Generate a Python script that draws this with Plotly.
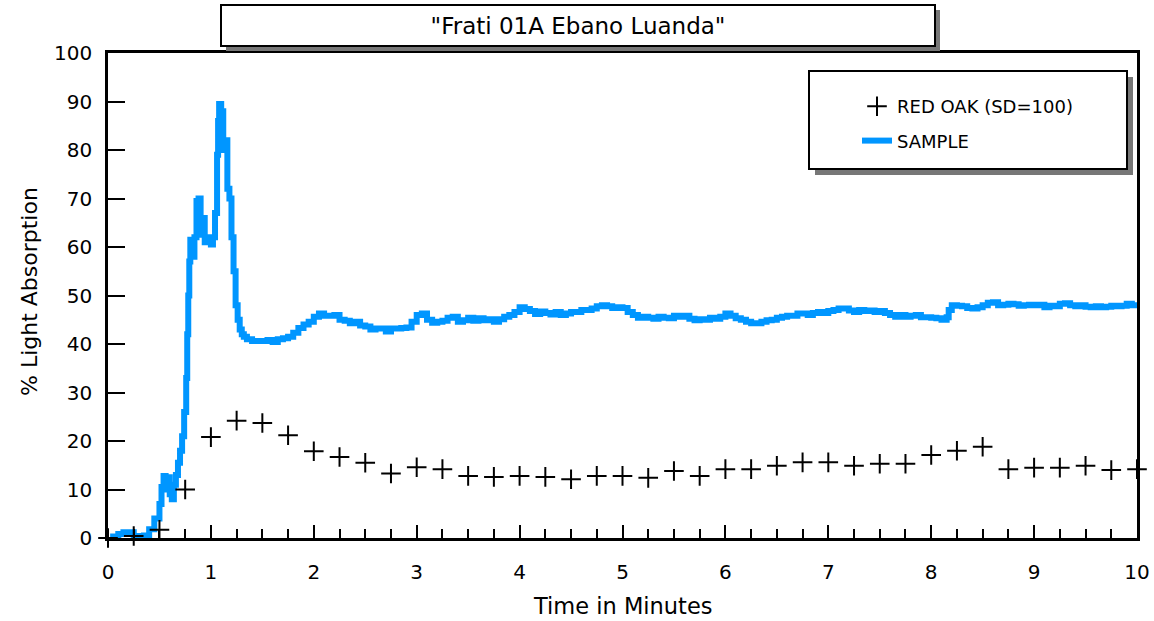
import plotly.graph_objects as go

# ---------------- data ----------------
oak_time = [0.0, 0.25, 0.5, 0.75, 1.0, 1.25, 1.5, 1.75, 2.0, 2.25, 2.5, 2.75, 3.0, 3.25,
            3.5, 3.75, 4.0, 4.25, 4.5, 4.75, 5.0, 5.25, 5.5, 5.75, 6.0, 6.25, 6.5, 6.75,
            7.0, 7.25, 7.5, 7.75, 8.0, 8.25, 8.5, 8.75, 9.0, 9.25, 9.5, 9.75, 10.0]
oak_values = [0.0, 0.4, 1.7, 10.0, 20.8, 24.2, 23.7, 21.2, 17.9, 16.7, 15.5, 13.3, 14.6, 14.2,
              12.8, 12.6, 12.8, 12.6, 12.1, 12.8, 12.8, 12.4, 13.8, 12.8, 14.2, 14.2, 14.9, 15.6,
              15.6, 14.9, 15.3, 15.3, 17.1, 18.0, 18.8, 14.2, 14.5, 14.5, 14.9, 14.0, 14.2]

sample_time = [
    0.00, 0.05, 0.10, 0.15, 0.20, 0.25, 0.30, 0.35, 0.40, 0.45, 0.50,
    0.52, 0.54, 0.56, 0.58, 0.60, 0.62, 0.64, 0.66, 0.68, 0.70, 0.72, 0.74, 0.76, 0.77,
    0.78, 0.79, 0.80, 0.82, 0.84, 0.86, 0.87, 0.88, 0.90, 0.92, 0.94, 0.96, 0.98, 1.00,
    1.02, 1.04, 1.06, 1.07, 1.08, 1.10, 1.11, 1.12, 1.14, 1.16, 1.18, 1.20, 1.22, 1.24,
    1.26, 1.28, 1.30, 1.32, 1.35, 1.40, 1.45, 1.50, 1.55, 1.60, 1.65, 1.70, 1.75, 1.80,
    1.85, 1.90, 1.95, 2.00, 2.05, 2.10, 2.15, 2.20, 2.25, 2.30, 2.35, 2.40, 2.45, 2.50,
    2.55, 2.60, 2.65, 2.70, 2.75, 2.80, 2.85, 2.90, 2.95, 3.00, 3.05, 3.10, 3.15, 3.20,
    3.25, 3.30, 3.35, 3.40, 3.45, 3.50, 3.55, 3.60, 3.65, 3.70, 3.75, 3.80, 3.85, 3.90,
    3.95, 4.00, 4.05, 4.10, 4.15, 4.20, 4.25, 4.30, 4.35, 4.40, 4.45, 4.50, 4.55, 4.60,
    4.65, 4.70, 4.75, 4.80, 4.85, 4.90, 4.95, 5.00, 5.05, 5.10, 5.15, 5.20, 5.25, 5.30,
    5.35, 5.40, 5.45, 5.50, 5.55, 5.60, 5.65, 5.70, 5.75, 5.80, 5.85, 5.90, 5.95, 6.00,
    6.05, 6.10, 6.15, 6.20, 6.25, 6.30, 6.35, 6.40, 6.45, 6.50, 6.55, 6.60, 6.65, 6.70,
    6.75, 6.80, 6.85, 6.90, 6.95, 7.00, 7.05, 7.10, 7.15, 7.20, 7.25, 7.30, 7.35, 7.40,
    7.45, 7.50, 7.55, 7.60, 7.65, 7.70, 7.75, 7.80, 7.85, 7.90, 7.95, 8.00, 8.05, 8.10,
    8.15, 8.17, 8.20, 8.25, 8.30, 8.35, 8.40, 8.45, 8.50, 8.55, 8.60, 8.65, 8.70, 8.75,
    8.80, 8.85, 8.90, 8.95, 9.00, 9.05, 9.10, 9.15, 9.20, 9.25, 9.30, 9.35, 9.40, 9.45,
    9.50, 9.55, 9.60, 9.65, 9.70, 9.75, 9.80, 9.85, 9.90, 9.95, 10.00]
sample_values = [
    -0.5, 0.3, 0.8, 1.2, 1.2, 0.4, 0.2, 0.5, 1.8, 4.0, 7.0,
    10.5, 12.8, 10.0, 12.5, 9.0, 8.0, 11.0, 13.0, 15.5, 18.0, 21.0, 26.0, 33.0, 42.0,
    50.0, 57.0, 61.5, 58.0, 62.0, 69.5, 64.0, 70.0, 62.5, 66.0, 61.0, 62.0, 61.5, 60.5,
    62.0, 67.0, 79.0, 86.0, 89.5, 84.0, 88.0, 80.0, 82.0, 72.0, 70.0, 62.0, 55.0, 48.0,
    45.0, 43.0, 42.0, 41.5, 41.0, 40.6, 40.6, 40.6, 40.8, 40.4, 41.0, 41.2, 41.5, 42.3,
    43.3, 44.0, 44.6, 45.6, 46.3, 45.8, 45.8, 46.0, 45.0, 44.8, 44.3, 44.6, 43.8, 43.6,
    43.0, 43.2, 43.2, 42.6, 43.2, 43.2, 43.3, 43.4, 44.6, 46.0, 46.3, 45.0, 44.4, 44.6,
    44.8, 45.4, 45.6, 44.6, 44.9, 45.4, 44.8, 45.3, 44.9, 45.1, 44.6, 45.1, 45.6, 46.0,
    46.6, 47.6, 47.2, 46.8, 46.2, 46.7, 46.4, 46.1, 46.6, 46.0, 46.3, 46.6, 46.6, 47.0,
    47.0, 47.3, 47.8, 48.0, 47.8, 47.4, 47.6, 47.4, 46.6, 46.0, 45.4, 45.6, 45.4, 45.2,
    45.6, 45.4, 45.3, 45.8, 45.6, 45.8, 45.2, 44.9, 45.1, 45.0, 45.4, 45.2, 45.6, 46.3,
    45.8, 45.3, 45.0, 44.6, 44.3, 44.3, 44.6, 44.9, 45.0, 45.4, 45.6, 45.8, 45.8, 46.3,
    46.3, 46.0, 46.4, 46.6, 46.4, 46.8, 47.0, 47.3, 47.3, 46.9, 46.6, 47.0, 46.8, 46.9,
    46.6, 46.8, 46.4, 46.0, 45.6, 46.0, 45.6, 45.8, 46.0, 45.5, 45.5, 45.4, 45.3, 45.0,
    45.5, 47.0, 48.0, 47.9, 47.8, 47.4, 47.3, 47.6, 48.0, 48.5, 48.6, 48.0, 48.1, 48.3,
    48.2, 47.9, 48.0, 48.1, 48.0, 48.1, 47.6, 47.9, 47.8, 48.3, 48.4, 48.0, 47.8, 48.0,
    47.7, 47.6, 47.8, 47.6, 47.7, 47.9, 47.8, 47.9, 48.3, 48.0, 48.0]

x_tick_vals = [0, 1, 2, 3, 4, 5, 6, 7, 8, 9, 10]
y_tick_vals = [0, 10, 20, 30, 40, 50, 60, 70, 80, 90, 100]

FONT = "DejaVu Sans, Liberation Sans, Arial, sans-serif"
BLUE = "#0096FF"

# ---------------- figure ----------------
fig = go.Figure()
fig.add_trace(go.Scatter(
    x=sample_time, y=sample_values, mode="lines", name="SAMPLE",
    line=dict(color=BLUE, width=6, shape="hv"),
    legendgroup="b", legendrank=2,
))
fig.add_trace(go.Scatter(
    x=oak_time, y=oak_values, mode="markers", name="RED OAK (SD=100)",
    marker=dict(symbol="cross-thin", size=14, color="black",
                line=dict(color="black", width=2)),
    cliponaxis=False, legendgroup="a", legendrank=1,
))

W, H = 1154, 621
L, R, T, B = 108, 17, 53, 83
pw, ph = W - L - R, H - T - B


def px(xp):
    return (xp - L) / pw


def py(yp):
    return (H - B - yp) / ph


shapes = [
    # title box shadow + box
    dict(type="rect", xref="paper", yref="paper", x0=px(226), x1=px(940), y0=py(51), y1=py(10),
         fillcolor="#777777", line=dict(width=0), layer="above"),
    dict(type="rect", xref="paper", yref="paper", x0=px(221), x1=px(935), y0=py(46), y1=py(5),
         fillcolor="white", line=dict(color="black", width=2), layer="above"),
    # legend box shadow + box
    dict(type="rect", xref="paper", yref="paper", x0=px(815), x1=px(1133), y0=py(175), y1=py(77),
         fillcolor="#777777", line=dict(width=0), layer="above"),
    dict(type="rect", xref="paper", yref="paper", x0=px(809), x1=px(1127), y0=py(169), y1=py(71),
         fillcolor="white", line=dict(color="black", width=2), layer="above"),
]

fig.update_layout(
    width=W, height=H,
    margin=dict(l=L, r=R, t=T, b=B, pad=0, autoexpand=False),
    paper_bgcolor="white", plot_bgcolor="white",
    font=dict(family=FONT, color="black", size=20),
    title=dict(text='"Frati 01A Ebano Luanda"', x=px(578), xref="paper", xanchor="center",
               y=1 - 26 / H, yref="container", yanchor="middle",
               font=dict(family=FONT, size=23, color="black")),
    showlegend=True,
    legend=dict(x=px(857), y=py(88), xanchor="left", yanchor="top",
                bgcolor="rgba(0,0,0,0)", borderwidth=0,
                font=dict(family=FONT, size=18, color="black"),
                traceorder="grouped", tracegroupgap=8, itemwidth=30),
    shapes=shapes,
    annotations=[
        dict(text="Time in Minutes", xref="paper", yref="paper", x=px(622), y=py(606),
             xanchor="center", yanchor="middle", showarrow=False,
             font=dict(family=FONT, size=22.5, color="black")),
        dict(text="% Light Absorption", xref="paper", yref="paper", x=px(29), y=py(292),
             xanchor="center", yanchor="middle", showarrow=False, textangle=-90,
             font=dict(family=FONT, size=22, color="black")),
    ],
)

fig.update_xaxes(
    range=[0, 10], tickvals=x_tick_vals, ticktext=[str(v) for v in x_tick_vals],
    showline=True, linecolor="black", linewidth=2.5, mirror=True,
    ticks="inside", ticklen=13, tickwidth=2, tickcolor="black",
    minor=dict(dtick=0.25, ticks="inside", ticklen=9, tickwidth=2, tickcolor="black"),
    showgrid=False, zeroline=False, ticklabelstandoff=14, ticklabeloverflow="allow",
    automargin=False,
    tickfont=dict(family=FONT, size=20, color="black"),
)
fig.update_yaxes(
    range=[0, 100], tickvals=y_tick_vals, ticktext=[str(v) for v in y_tick_vals],
    showline=True, linecolor="black", linewidth=2.5, mirror=True,
    ticks="inside", ticklen=17, tickwidth=2, tickcolor="black",
    showgrid=False, zeroline=False, ticklabelstandoff=9, ticklabeloverflow="allow",
    automargin=False,
    tickfont=dict(family=FONT, size=20, color="black"),
)

fig.write_html(
    "out.html",
    config={"displayModeBar": False},
    post_script="document.body.style.margin='0';document.body.style.overflow='hidden';",
)
